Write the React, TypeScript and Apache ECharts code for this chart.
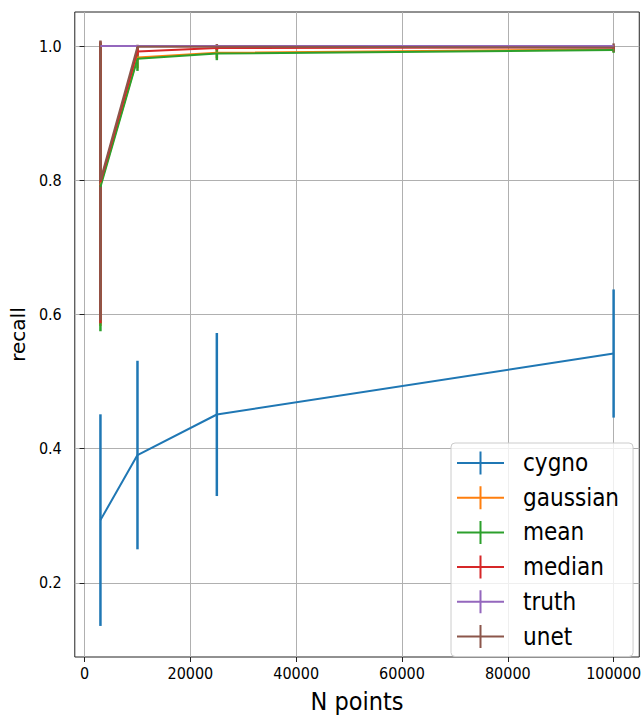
import React, { useEffect, useRef } from "react";
import * as echarts from "echarts";

const nPoints = [3000, 10000, 25000, 100000];
const seriesNames = ["cygno", "gaussian", "mean", "median", "truth", "unet"];
const seriesColors = ["#1f77b4", "#ff7f0e", "#2ca02c", "#d62728", "#9467bd", "#8c564b"];

const cygnoRecall = [0.2935, 0.3905, 0.4509, 0.5418];
const cygnoErr = [0.1577, 0.1405, 0.1215, 0.0955];
const gaussianRecall = [0.793, 0.983, 0.99, 0.995];
const gaussianErr = [0.21, 0.016, 0.008, 0.004];
const meanRecall = [0.79, 0.981, 0.989, 0.994];
const meanErr = [0.215, 0.018, 0.01, 0.004];
const medianRecall = [0.797, 0.992, 0.997, 0.998];
const medianErr = [0.21, 0.006, 0.003, 0.002];
const truthRecall = [1.0, 1.0, 1.0, 1.0];
const truthErr = [0, 0, 0, 0];
const unetRecall = [0.8, 0.999, 0.999, 0.998];
const unetErr = [0.2085, 0.003, 0.004, 0.006];

const xTicks = [0, 20000, 40000, 60000, 80000, 100000];
const yTicks = [0.2, 0.4, 0.6, 0.8, 1.0];

const allRecall = [cygnoRecall, gaussianRecall, meanRecall, medianRecall, truthRecall, unetRecall];
const allErr = [cygnoErr, gaussianErr, meanErr, medianErr, truthErr, unetErr];

const PLUS = "path://M0,10.5L47,10.5L47,12.5L0,12.5Z M22.5,0L24.5,0L24.5,23L22.5,23Z";
const COND = "'DejaVu Sans Condensed', 'DejaVu Sans', sans-serif";
const REG = "'DejaVu Sans', sans-serif";

export default function App() {
  const ref = useRef<HTMLDivElement>(null);
  useEffect(() => {
    if (!ref.current) return;
    const chart = echarts.init(ref.current, null, { renderer: "svg" });
    const series: any[] = [];
    seriesNames.forEach((name, i) => {
      const color = seriesColors[i];
      series.push({
        type: "line",
        name,
        data: nPoints.map((x, j) => [x, allRecall[i][j]]),
        color,
        itemStyle: { color },
        lineStyle: { color, width: 2 },
        symbol: "none",
        showSymbol: false,
        silent: true,
        z: 2,
      });
      if (allErr[i].some((e) => e > 0)) {
        series.push({
          type: "custom",
          name: name + "_err",
          data: nPoints.map((x, j) => [x, allRecall[i][j], allErr[i][j]]),
          encode: { x: 0, y: 1 },
          silent: true,
          z: 2,
          renderItem: (params: any, api: any) => {
            const x = api.value(0);
            const y = api.value(1);
            const e = api.value(2);
            const p1 = api.coord([x, y + e]);
            const p2 = api.coord([x, y - e]);
            return {
              type: "line",
              shape: { x1: p1[0], y1: p1[1], x2: p2[0], y2: p2[1] },
              style: { stroke: color, lineWidth: 2.5 },
            };
          },
        });
      }
    });

    chart.setOption({
      animation: false,
      textStyle: { fontFamily: COND, color: "#000" },
      grid: {
        left: 73,
        top: 12,
        right: 1,
        bottom: 54.5,
        show: true,
        borderColor: "#222",
        borderWidth: 1,
        backgroundColor: "transparent",
        containLabel: false,
      },
      xAxis: {
        type: "value",
        min: -1850,
        max: 104850,
        name: "N points",
        nameLocation: "middle",
        nameGap: 32,
        nameTextStyle: { fontSize: 25, fontFamily: COND, color: "#000" },
        axisLine: { show: false },
        axisTick: { show: true, length: 5, inside: false, customValues: xTicks, lineStyle: { color: "#222", width: 1 } },
        axisLabel: {
          customValues: xTicks,
          fontSize: 16,
          margin: 8,
          color: "#000",
          fontFamily: COND,
          formatter: (v: number) => String(v),
        },
        splitLine: { show: true, lineStyle: { color: "#b0b0b0", width: 1 } },
      },
      yAxis: {
        type: "value",
        min: 0.0895,
        max: 1.0508,
        name: "recall",
        nameLocation: "middle",
        nameRotate: 90,
        nameGap: 46,
        nameTextStyle: { fontSize: 20, fontFamily: REG, color: "#000" },
        axisLine: { show: false },
        axisTick: { show: true, length: 5, inside: false, customValues: yTicks, lineStyle: { color: "#222", width: 1 } },
        axisLabel: {
          customValues: yTicks,
          fontSize: 16,
          margin: 13,
          color: "#000",
          fontFamily: COND,
          formatter: (v: number) => v.toFixed(1),
        },
        splitLine: { show: true, lineStyle: { color: "#b0b0b0", width: 1 } },
      },
      legend: {
        orient: "vertical",
        left: 451,
        top: 443,
        padding: [8, 14, 8, 6],
        itemWidth: 47,
        itemHeight: 23,
        itemGap: 10.7,
        backgroundColor: "rgba(255,255,255,0.8)",
        borderColor: "#cccccc",
        borderWidth: 1,
        borderRadius: 4,
        selectedMode: false,
        textStyle: { fontSize: 24, fontFamily: COND, color: "#000", lineHeight: 23, padding: [0, 0, 0, 14] },
        data: seriesNames.map((name) => ({ name, icon: PLUS })),
      },
      series,
    });
    return () => chart.dispose();
  }, []);
  return <div ref={ref} style={{ position: "absolute", left: 0, top: 0, width: 644, height: 719 }} />;
}
